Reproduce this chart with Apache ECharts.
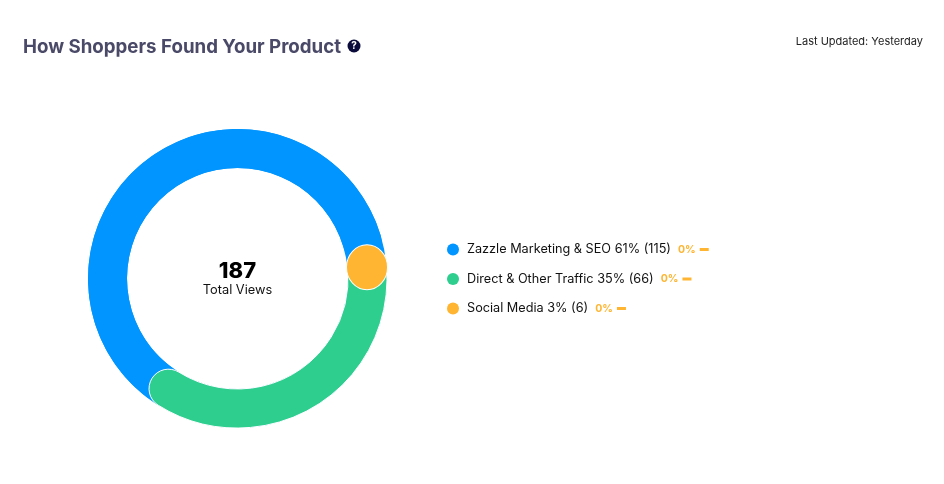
<!DOCTYPE html>
<html>
<head>
<meta charset="utf-8">
<style>html,body{margin:0;padding:0;background:#fff}#c{width:944px;height:484px}</style>
<script src="https://cdn.jsdelivr.net/npm/echarts@6/dist/echarts.min.js"></script>
</head>
<body>
<div id="c"></div>
<script>
const sources = ['Zazzle Marketing & SEO', 'Direct & Other Traffic', 'Social Media'];
const views = [115, 66, 6];
const shares = ['61%', '35%', '3%'];
const changes = ['0%', '0%', '0%'];
const colors = ['#0095FF', '#2DCE8E', '#FFB531'];
const totalViews = 187;
const FONT = 'Inter, sans-serif';

const chart = echarts.init(document.getElementById('c'), null, {renderer: 'canvas'});
chart.setOption({
  animation: false,
  backgroundColor: '#fff',
  title: [
    {text: 'How Shoppers Found Your Product', left: 23, top: 38, padding: 0,
     textStyle: {fontFamily: FONT, fontSize: 18.7, fontWeight: 700, color: '#4A4A68'}},
    {text: 'Last Updated: Yesterday', right: 21, top: 36, padding: 0,
     textStyle: {fontFamily: FONT, fontSize: 11, fontWeight: 400, color: '#222'}},
    {text: String(totalViews), left: 237.5, top: 260, textAlign: 'center', padding: 0,
     textStyle: {fontFamily: FONT, fontSize: 22, fontWeight: 800, color: '#000'}},
    {text: 'Total Views', left: 237.5, top: 283.5, textAlign: 'center', padding: 0,
     textStyle: {fontFamily: FONT, fontSize: 12.8, fontWeight: 400, color: '#111'}}
  ],
  polar: {center: [237.5, 278.5], radius: [110.5, 149.5]},
  angleAxis: {type: 'value', min: 0, max: totalViews, startAngle: 5, clockwise: true, show: false},
  radiusAxis: {type: 'category', data: ['Views'], show: false},
  legend: {
    orient: 'vertical', left: 442, top: 238, itemGap: 16.5,
    itemWidth: 12, itemHeight: 12, icon: 'circle', selectedMode: false,
    itemStyle: {borderWidth: 0},
    data: sources,
    formatter: function (name) {
      const i = sources.indexOf(name);
      return '{t|' + name + ' ' + shares[i] + ' (' + views[i] + ')}{d|' + changes[i] + '}{g|}{b|}';
    },
    textStyle: {
      fontFamily: FONT, fontSize: 12.7, color: '#111', height: 18,
      rich: {
        t: {fontFamily: FONT, fontSize: 12.7, color: '#111', padding: [0, 0, 0, 3], height: 18},
        d: {fontFamily: FONT, fontSize: 10.5, fontWeight: 700, color: '#FFB531', padding: [0, 0, 0, 7]},
        g: {width: 4},
        b: {backgroundColor: '#FFB531', width: 9, height: 3, verticalAlign: 'middle'}
      }
    }
  },
  graphic: [
    {type: 'circle', shape: {cx: 354, cy: 46, r: 6.5}, style: {fill: '#0B0B3B'}},
    {type: 'text', style: {x: 354, y: 46, text: '?', align: 'center', verticalAlign: 'middle',
      fill: '#fff', font: '700 10px ' + FONT}}
  ],
  series: [
    {name: sources[1], type: 'bar', coordinateSystem: 'polar', stack: 'views', roundCap: true,
     barWidth: '100%', z: 3, data: [views[1]],
     itemStyle: {color: colors[1], borderColor: '#fff', borderWidth: 1}},
    {name: sources[0], type: 'bar', coordinateSystem: 'polar', stack: 'views', roundCap: true,
     barWidth: '100%', z: 2, data: [views[0]],
     showBackground: true, backgroundStyle: {color: colors[0], opacity: 1},
     itemStyle: {color: colors[0]}},
    {name: sources[2], type: 'scatter', coordinateSystem: 'polar', symbol: 'circle', symbolSize: [41, 45],
     z: 4, data: [[0, totalViews]],
     itemStyle: {color: colors[2], borderColor: '#fff', borderWidth: 1, opacity: 1}}
  ]
});
</script>
</body>
</html>
